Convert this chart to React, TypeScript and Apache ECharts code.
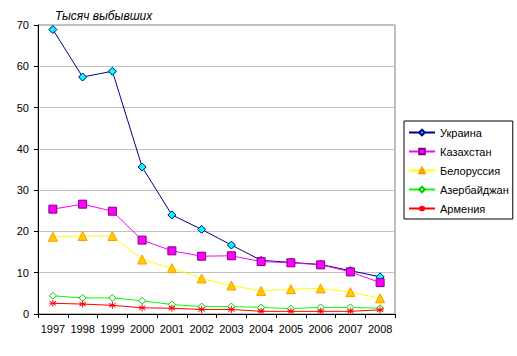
import React, { useEffect, useRef } from "react";
import * as echarts from "echarts";

const years = ["1997", "1998", "1999", "2000", "2001", "2002", "2003", "2004", "2005", "2006", "2007", "2008"];
const ukraine = [68.9, 57.4, 58.8, 35.6, 24.0, 20.5, 16.7, 13.0, 12.5, 12.0, 10.5, 9.0];
const kazakhstan = [25.4, 26.6, 24.9, 17.9, 15.3, 14.0, 14.1, 12.7, 12.4, 11.9, 10.2, 7.6];
const belarus = [18.7, 18.9, 18.9, 13.2, 11.1, 8.6, 6.9, 5.6, 6.0, 6.2, 5.3, 3.8];
const azerbaijan = [4.4, 3.9, 3.9, 3.2, 2.3, 1.8, 1.8, 1.6, 1.3, 1.6, 1.6, 1.4];
const armenia = [2.6, 2.4, 2.1, 1.5, 1.4, 1.1, 1.1, 0.65, 0.65, 0.65, 0.65, 1.0];

const FONT = "Liberation Sans, Arial, sans-serif";

export default function App() {
  const ref = useRef<HTMLDivElement>(null);
  useEffect(() => {
    if (!ref.current) return;
    const chart = echarts.init(ref.current, null, { renderer: "svg" });
    const mk = (name: string, data: number[], line: string, symbol: string, size: number, fill: string, border: string) => ({
      name,
      type: "line",
      data,
      symbol,
      symbolSize: size,
      lineStyle: { color: line, width: 1 },
      itemStyle: { color: fill, borderColor: border, borderWidth: 1 },
      emphasis: { disabled: true },
    });
    chart.setOption({
      animation: false,
      backgroundColor: "#ffffff",
      textStyle: { fontFamily: FONT },
      title: {
        text: "Тысяч выбывших",
        left: 50,
        top: 5,
        textStyle: { fontSize: 12, fontStyle: "italic", fontWeight: "normal", color: "#000", fontFamily: FONT },
      },
      grid: { left: 38, top: 25, width: 357, height: 289, show: true, borderColor: "#808080", borderWidth: 1, backgroundColor: "transparent" },
      legend: {
        orient: "vertical",
        left: 404,
        top: 121,
        width: 108,
        itemWidth: 26,
        itemHeight: 7,
        itemGap: 8,
        padding: [6, 4, 5, 4],
        borderColor: "#000",
        borderWidth: 1,
        textStyle: { fontSize: 11, color: "#000", fontFamily: FONT },
        data: ["Украина", "Казахстан", "Белоруссия", "Азербайджан", "Армения"],
      },
      xAxis: {
        type: "category",
        data: years,
        boundaryGap: true,
        axisLine: { lineStyle: { color: "#000" } },
        axisTick: { show: true, length: 4, lineStyle: { color: "#000" } },
        axisLabel: { fontSize: 11, color: "#000", margin: 9, interval: 0, fontFamily: FONT },
      },
      yAxis: {
        type: "value",
        min: 0,
        max: 70,
        interval: 10,
        axisLine: { show: true, lineStyle: { color: "#000" } },
        axisTick: { show: true, length: 4, lineStyle: { color: "#000" } },
        axisLabel: { fontSize: 11, color: "#000", margin: 9, fontFamily: FONT },
        splitLine: { lineStyle: { color: "#C0C0C0" } },
      },
      series: [
        mk("Украина", ukraine, "#000080", "diamond", 8, "#00FFFF", "#000080"),
        mk("Казахстан", kazakhstan, "#FF00FF", "rect", 8, "#FF00FF", "#800080"),
        mk("Белоруссия", belarus, "#FFFF00", "triangle", 9, "#FFCC00", "#FF9900"),
        mk("Азербайджан", azerbaijan, "#00FF00", "diamond", 7, "#FFFFFF", "#00CC00"),
        mk("Армения", armenia, "#FF0000", "path://M0,-5L0,5M-4.5,-3L4.5,3M-4.5,3L4.5,-3M-5,0L5,0", 7, "#FF0000", "#FF0000"),
      ],
    });
    return () => chart.dispose();
  }, []);
  return <div ref={ref} style={{ width: 517, height: 356, position: "absolute", left: 0, top: 0 }} />;
}
